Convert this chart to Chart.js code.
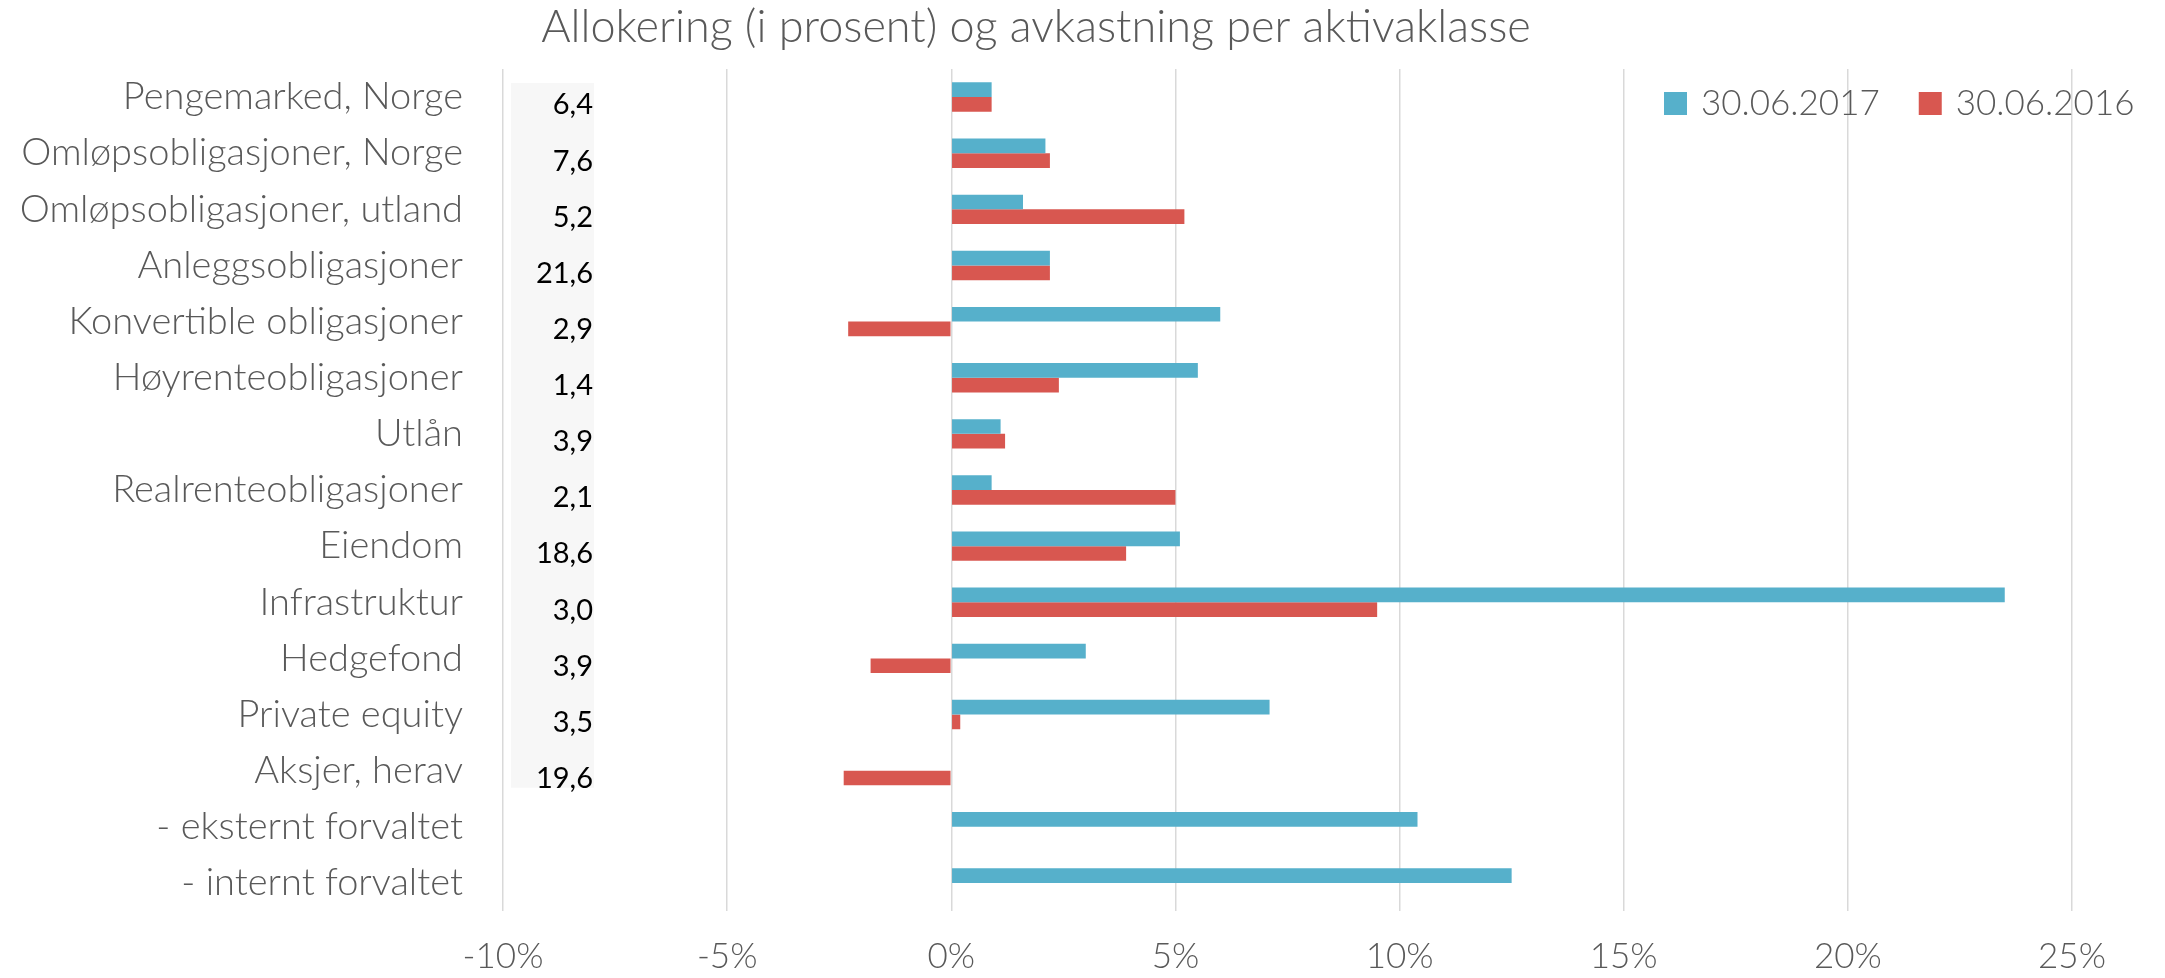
<!DOCTYPE html>
<html><head><meta charset="utf-8">
<script src="https://cdn.jsdelivr.net/npm/chart.js@4/dist/chart.umd.min.js"></script>
<style>html,body{margin:0;padding:0;background:#fff;overflow:hidden}</style>
</head><body>
<canvas id="c" width="2165" height="978"></canvas>
<script>
const chartTitle = 'Allokering (i prosent) og avkastning per aktivaklasse';
const categories = ['Pengemarked, Norge','Omløpsobligasjoner, Norge','Omløpsobligasjoner, utland','Anleggsobligasjoner','Konvertible obligasjoner','Høyrenteobligasjoner','Utlån','Realrenteobligasjoner','Eiendom','Infrastruktur','Hedgefond','Private equity','Aksjer, herav','- eksternt forvaltet','- internt forvaltet'];
const seriesNames = ['30.06.2017','30.06.2016'];
const returns2017 = [0.9,2.1,1.6,2.2,6.0,5.5,1.1,0.9,5.1,23.5,3.0,7.1,null,10.4,12.5];
const returns2016 = [0.9,2.2,5.2,2.2,-2.3,2.4,1.2,5.0,3.9,9.5,-1.8,0.2,-2.4,null,null];
const allocation = [6.4,7.6,5.2,21.6,2.9,1.4,3.9,2.1,18.6,3.0,3.9,3.5,19.6,null,null];
const xTicks = [-10,-5,0,5,10,15,20,25];
const colors = ['#56B0CB','#D85750'];

const FONT = 'Lato, "Open Sans", sans-serif';
const GREY = '#595959';

const titlePlugin = {
  id: 'customTitle',
  afterDraw(chart) {
    const ctx = chart.ctx;
    ctx.save();
    ctx.font = '300 45px ' + FONT;
    ctx.fillStyle = GREY;
    ctx.textAlign = 'center';
    ctx.textBaseline = 'middle';
    ctx.fillText(chartTitle, 1036, 27);
    ctx.restore();
  }
};

const allocPlugin = {
  id: 'allocColumn',
  beforeDraw(chart) {
    const ctx = chart.ctx, x = chart.scales.x, y = chart.scales.y;
    const last = allocation.reduce((a, v, i) => v != null ? i : a, 0);
    const left = x.getPixelForValue(xTicks[0]) + 8;
    const right = left + 83;
    const top = y.getPixelForValue(0) - 14;
    const bottom = y.getPixelForValue(last) + 17;
    ctx.save();
    ctx.fillStyle = '#f7f7f7';
    ctx.fillRect(left, top, right - left, bottom - top);
    ctx.restore();
  },
  afterDraw(chart) {
    const ctx = chart.ctx, x = chart.scales.x, y = chart.scales.y;
    const right = x.getPixelForValue(xTicks[0]) + 90;
    ctx.save();
    ctx.font = '29px ' + FONT;
    ctx.fillStyle = '#000';
    ctx.textAlign = 'right';
    ctx.textBaseline = 'middle';
    allocation.forEach((v, i) => {
      if (v == null) return;
      ctx.fillText(v.toFixed(1).replace('.', ','), right, y.getPixelForValue(i) + 8);
    });
    ctx.restore();
  }
};

const legendPlugin = {
  id: 'customLegend',
  afterDraw(chart) {
    const ctx = chart.ctx;
    ctx.save();
    ctx.font = '300 35px ' + FONT;
    ctx.textBaseline = 'middle';
    ctx.textAlign = 'left';
    const cy = 104;
    let xPos = 1664;
    chart.data.datasets.forEach((ds, i) => {
      ctx.fillStyle = ds.backgroundColor;
      ctx.fillRect(xPos, cy - 12, 23, 23);
      ctx.fillStyle = GREY;
      ctx.fillText(ds.label, xPos + 37, cy);
      xPos += 37 + ctx.measureText(ds.label).width + 39;
    });
    ctx.restore();
  }
};

new Chart(document.getElementById('c'), {
  type: 'bar',
  data: {
    labels: categories,
    datasets: [
      { label: seriesNames[0], data: returns2017, backgroundColor: colors[0] },
      { label: seriesNames[1], data: returns2016, backgroundColor: colors[1] }
    ]
  },
  options: {
    indexAxis: 'y',
    responsive: false,
    animation: false,
    devicePixelRatio: 1,
    layout: { padding: { top: 69, right: 93, bottom: 0, left: 0 } },
    datasets: { bar: { categoryPercentage: 0.524, barPercentage: 1.0 } },
    plugins: { legend: { display: false }, title: { display: false }, tooltip: { enabled: false } },
    scales: {
      x: {
        min: xTicks[0], max: xTicks[xTicks.length - 1],
        afterBuildTicks(s) { s.ticks = xTicks.map(v => ({ value: v })); },
        afterFit(s) { s.height = 978 - 911; },
        grid: { color: '#d9d9d9', lineWidth: 1.5, drawTicks: false },
        border: { display: false },
        ticks: { padding: 25, color: GREY, font: { family: FONT, size: 35, weight: 300 }, callback: v => v + '%' }
      },
      y: {
        afterFit(s) { s.width = 503; },
        grid: { display: false, drawTicks: false },
        border: { display: false },
        ticks: { padding: 40, color: GREY, autoSkip: false, font: { family: FONT, size: 38, weight: 300 } }
      }
    }
  },
  plugins: [allocPlugin, titlePlugin, legendPlugin]
});
</script>
</body></html>
